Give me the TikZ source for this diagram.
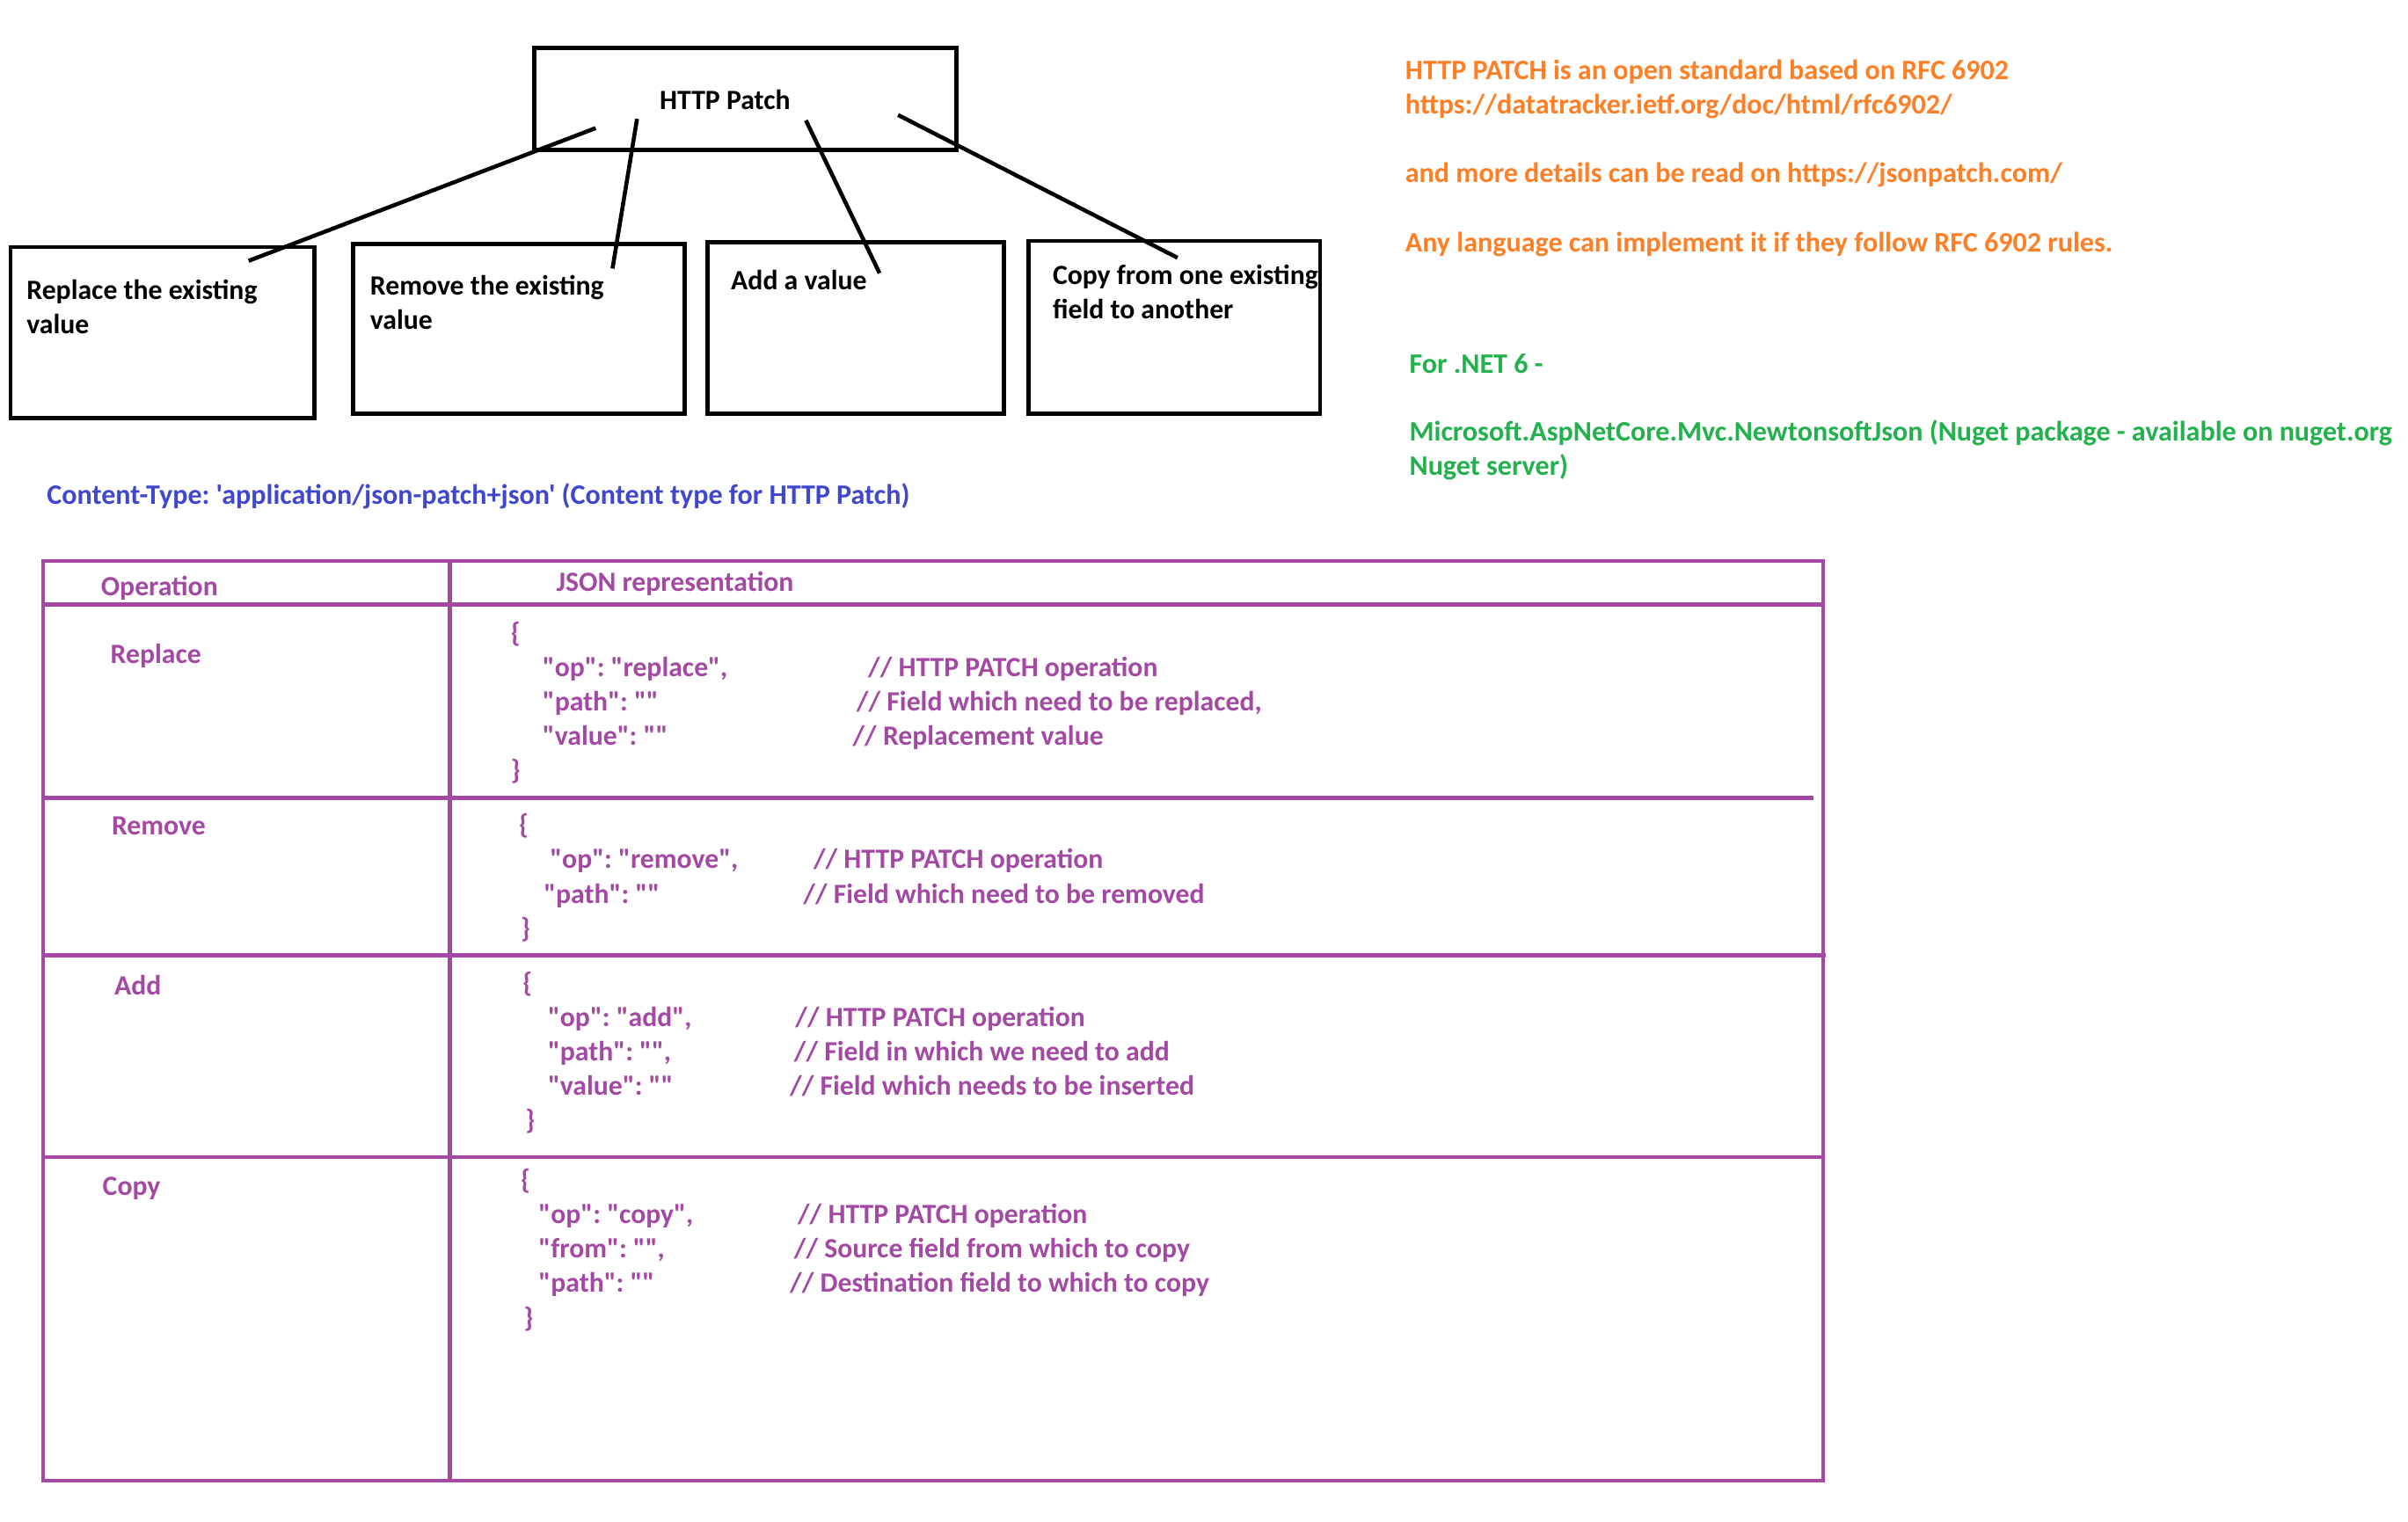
\documentclass[tikz,border=0pt]{standalone}
\usepackage{fontspec}
\setmainfont{Carlito}[Ligatures=TeXOff]
\usepackage{tikz}
\usetikzlibrary{positioning}
\definecolor{patchorange}{RGB}{255,127,39}
\definecolor{patchgreen}{RGB}{34,177,76}
\definecolor{patchpurple}{RGB}{163,73,164}
\definecolor{patchblue}{RGB}{63,72,204}
\frenchspacing

\tikzset{
  txt/.style={font=\fontsize{9}{11.1}\selectfont\bfseries, inner sep=0pt},
  oneline/.style={txt, anchor=base west},
  lines/.style={txt, anchor=north west, align=left},
  opbox/.style={draw=black, line width=1.3pt, inner sep=0pt},
  link/.style={draw=black, line width=1.3pt},
  grid/.style={draw=patchpurple, line width=1.3pt},
}

\begin{document}
\begin{tikzpicture}[x=0.0175cm, y=-0.0175cm]
            \useasboundingbox (0,0) rectangle (1560,985.7);

            % Patch box and the four operations
            \node[opbox, minimum width=4.788cm, minimum height=1.155cm] (patch) at (482.8,64) {};
            \node[oneline] (patch-text) at (427,71.2) {HTTP Patch};

            \node[opbox, minimum width=3.446cm, minimum height=1.9425cm] (replace) at (105.4,215.5) {};
            \node[lines] (replace-text) at (16.9,178.1) {\strut Replace the existing\\value};

            \node[opbox, minimum width=3.759cm, minimum height=1.925cm] (remove) at (336.1,213) {};
            \node[lines] (remove-text) at (239.4,175.3) {\strut Remove the existing\\value};

            \node[opbox, minimum width=3.358cm, minimum height=1.9425cm] (add) at (554.4,212.5) {};
            \node[oneline] (add-text) at (473.2,188) {Add a value};

            \node[opbox, minimum width=3.3075cm, minimum height=1.96cm] (copy) at (760.8,212) {};
            \node[lines] (copy-text) at (681.6,168.3) {\strut Copy from one existing\\field to another};

            % Connectors
            \coordinate (patch-a) at (385.9,83);
            \coordinate (patch-b) at (412.7,77);
            \coordinate (patch-c) at (522.1,78);
            \coordinate (patch-d) at (581.8,74.5);
            \coordinate (replace-end) at (161.1,169);
            \coordinate (remove-end) at (396.8,174);
            \coordinate (add-end) at (569.8,177);
            \coordinate (copy-end) at (762.8,167);
            \draw[link] (patch-a) -- (replace-end);
            \draw[link] (patch-b) -- (remove-end);
            \draw[link] (patch-c) -- (add-end);
            \draw[link] (patch-d) -- (copy-end);

            % Notes on the right
            \node[lines, patchorange, font=\fontsize{9.1}{11.1}\selectfont\bfseries] (rfc-note) at (910,35.6) {\strut HTTP PATCH is an open standard based on RFC 6902\\https://datatracker.ietf.org/doc/html/rfc6902/\\[11.1pt]and more details can be read on https://jsonpatch.com/\\[11.1pt]Any language can implement it if they follow RFC 6902 rules.};
            \node[lines, patchgreen, font=\fontsize{9.1}{11}\selectfont\bfseries] (net-note) at (912.7,225.7) {\strut For .NET 6 -\\[11.1pt]Microsoft.AspNetCore.Mvc.NewtonsoftJson (Nuget package - available on nuget.org\\Nuget server)};

            \node[oneline, patchblue, font=\fontsize{9.1}{11.1}\selectfont\bfseries] (content-type) at (30,327) {Content-Type: 'application/json-patch+json' (Content type for HTTP Patch)};

            % Table
            \draw[grid] (28,363.5) rectangle (1181,959.5);
            \draw[grid] (291.5,363.5) -- (291.5,959.5);
            \draw[grid] (28,391.6) -- (1181,391.6);
            \draw[grid] (28,517) -- (1175,517);
            \draw[grid] (26.5,619) -- (1183,619);
            \draw[grid] (28,749.7) -- (1181,749.7);

            \node[oneline, patchpurple] (op-head) at (65,386) {Operation};
            \node[oneline, patchpurple] (json-head) at (360,383.4) {JSON representation};

            % Replace row
            \node[oneline, patchpurple] (replace-op) at (71.2,429.9) {Replace};
            \node[lines, patchpurple] (replace-json) at (330.6,400.1) {\strut\{\\\hspace*{10.2pt}"op": "replace",\\\hspace*{10.2pt}"path": ""\\\hspace*{10.2pt}"value": ""\\\}};
            \node[lines, patchpurple] (replace-note) at (552,422.4) {\strut\hspace*{5pt}// HTTP PATCH operation\\\hspace*{1.25pt}// Field which need to be replaced,\\// Replacement value};

            % Remove row
            \node[oneline, patchpurple] (remove-op) at (72,541) {Remove};
            \node[lines, patchpurple] (remove-json) at (335.8,524.6) {\strut\{\\\hspace*{10pt}"op": "remove",\\\hspace*{8pt}"path": ""\\\hspace*{0.6pt}\}};
            \node[lines, patchpurple] (remove-note) at (520,546.9) {\strut\hspace*{3.3pt}// HTTP PATCH operation\\// Field which need to be removed};

            % Add row
            \node[oneline, patchpurple] (add-op) at (73.8,644.5) {Add};
            \node[lines, patchpurple] (add-json) at (338.3,626.9) {\strut\{\\\hspace*{8.1pt}"op": "add",\\\hspace*{8.1pt}"path": "",\\\hspace*{8.1pt}"value": ""\\\hspace*{0.85pt}\}};
            \node[lines, patchpurple] (add-note) at (511.3,649.2) {\strut\hspace*{1.8pt}// HTTP PATCH operation\\\hspace*{1.35pt}// Field in which we need to add\\// Field which needs to be inserted};

            % Copy row
            \node[oneline, patchpurple] (copy-op) at (66.1,774.6) {Copy};
            \node[lines, patchpurple] (copy-json) at (337,754.6) {\strut\{\\\hspace*{5.75pt}"op": "copy",\\\hspace*{5.75pt}"from": "",\\\hspace*{5.75pt}"path": ""\\\hspace*{1pt}\}};
            \node[lines, patchpurple] (copy-note) at (511.3,776.9) {\strut\hspace*{2.55pt}// HTTP PATCH operation\\\hspace*{1.35pt}// Source field from which to copy\\// Destination field to which to copy};
        \end{tikzpicture}
\end{document}
